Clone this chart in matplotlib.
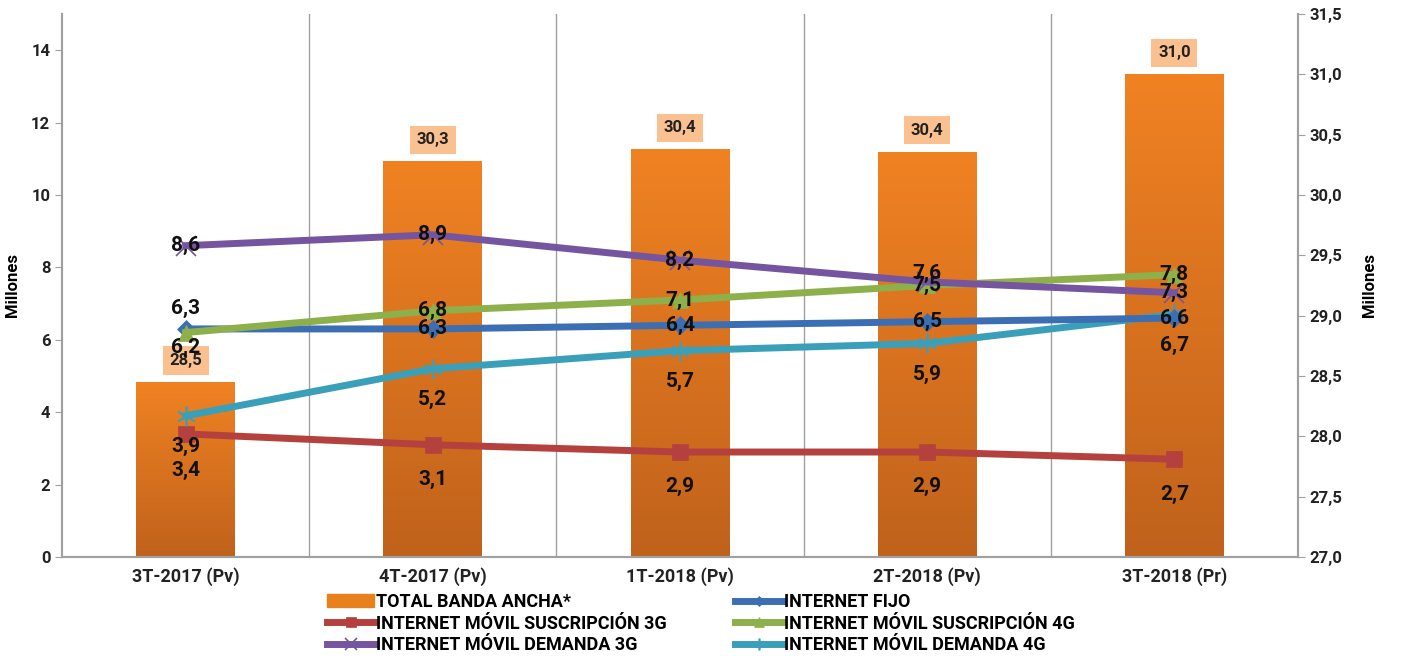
import numpy as np
import matplotlib.pyplot as plt
from matplotlib.patches import Patch
from matplotlib.colors import LinearSegmentedColormap
from matplotlib.ticker import FuncFormatter, MultipleLocator

categories = ["3T-2017 (Pv)", "4T-2017 (Pv)", "1T-2018 (Pv)", "2T-2018 (Pv)", "3T-2018 (Pr)"]
total_banda = [28.45, 30.28, 30.38, 30.36, 31.0]
total_labels = ["28,5", "30,3", "30,4", "30,4", "31,0"]
internet_fijo = [6.3, 6.3, 6.4, 6.5, 6.6]
movil_susc_3g = [3.4, 3.1, 2.9, 2.9, 2.7]
movil_susc_4g = [6.2, 6.8, 7.1, 7.5, 7.8]
movil_dem_3g = [8.6, 8.9, 8.2, 7.6, 7.3]
movil_dem_4g = [3.9, 5.2, 5.7, 5.9, 6.7]

plt.rcParams["font.family"] = ["Roboto", "DejaVu Sans"]
plt.rcParams["font.weight"] = "bold"

fig = plt.figure(figsize=(14.01, 6.56), dpi=100)
ax = fig.add_axes([0.0443, 0.1509, 0.8822, 0.8278])
ax2 = ax.twinx()
x = np.arange(len(categories))

# bars on the right scale (drawn first, behind the lines)
bars = ax.bar(x, np.array(total_banda) - 27.0, bottom=27.0, width=0.4, color="#E8801E", zorder=2)
grad = np.linspace(0, 1, 256).reshape(-1, 1)
cmap = LinearSegmentedColormap.from_list("bar", ["#C0621C", "#F08222"])
for b in bars:
    bx, by = b.get_x(), b.get_y()
    im = ax.imshow(grad, extent=[bx, bx + b.get_width(), by, by + b.get_height()],
                   origin="lower", aspect="auto", cmap=cmap, zorder=2.5)
    im.set_clip_path(b)
ax.set_xlim(-0.5, 4.5)
ax.set_ylim(27.0, 31.5)
for xi, v, lab in zip(x, total_banda, total_labels):
    ax.annotate(lab, (xi, v), xytext=(0, 10), textcoords="offset points", ha="center", va="bottom",
                fontsize=12, fontweight="bold", color="#222222", zorder=5,
                bbox=dict(boxstyle="square,pad=0.4", fc="#FAC090", ec="none"))

for g in [0.5, 1.5, 2.5, 3.5]:
    ax.axvline(g, color="#A0A0A0", lw=1, zorder=1)

ax.yaxis.tick_right()
ax.yaxis.set_label_position("right")
ax.yaxis.set_major_locator(MultipleLocator(0.5))
ax.yaxis.set_major_formatter(FuncFormatter(lambda v, p: f"{v:.1f}".replace(".", ",")))
ax.set_ylabel("Millones", fontsize=12, fontweight="bold", rotation=90, labelpad=14)

# lines on the left scale
ax2.yaxis.tick_left()
ax2.yaxis.set_label_position("left")
ax2.set_ylim(0, 15)
ax2.set_yticks(range(0, 15, 2))
ax2.set_ylabel("Millones", fontsize=12, fontweight="bold", labelpad=8)

series = [
    (movil_susc_3g, "#B5413E", "s", 11, "INTERNET MÓVIL SUSCRIPCIÓN 3G"),
    (movil_dem_4g, "#3AA0BA", (6, 2, 0), 14, "INTERNET MÓVIL DEMANDA 4G"),
    (internet_fijo, "#3C6EB4", "D", 9, "INTERNET FIJO"),
    (movil_susc_4g, "#8DB04A", "^", 12, "INTERNET MÓVIL SUSCRIPCIÓN 4G"),
    (movil_dem_3g, "#7554A0", "x", 14, "INTERNET MÓVIL DEMANDA 3G"),
]
handles = {}
for vals, col, mk, ms, name in series:
    mew = 1.2 if mk in ("x", (6, 2, 0)) else 0.5
    h, = ax2.plot(x, vals, color=col, lw=5, marker=mk, markersize=ms, markeredgewidth=mew,
                  markeredgecolor=col, zorder=3, label=name)
    handles[name] = h

# label offsets (points): per series, per category
offsets = {
    "INTERNET MÓVIL SUSCRIPCIÓN 3G": [-26, -25, -25, -25, -25],
    "INTERNET MÓVIL DEMANDA 4G": [-22, -22, -22, -22, -22],
    "INTERNET FIJO": [15, 0, 0, 0, 0],
    "INTERNET MÓVIL SUSCRIPCIÓN 4G": [-11, 0, 0, 0, 0],
    "INTERNET MÓVIL DEMANDA 3G": [0, 0, 0, 6, 0],
}
for vals, col, mk, ms, name in series:
    for xi, v, off in zip(x, vals, offsets[name]):
        ax2.annotate(f"{v:.1f}".replace(".", ","), (xi, v), xytext=(0, off), textcoords="offset points",
                     ha="center", va="center", fontsize=15, fontweight="bold", color="#111111", zorder=6)

for a in (ax, ax2):
    a.spines["top"].set_visible(False)
    for s in ("left", "right", "bottom"):
        a.spines[s].set_color("#A0A0A0")
        a.spines[s].set_linewidth(1.5)
    a.tick_params(axis="y", colors="#A0A0A0", labelcolor="#222222", labelsize=12, length=5)
ax.set_xticks(x)
ax.set_xticklabels(categories, fontsize=13, fontweight="bold", color="#222222")
ax.tick_params(axis="x", length=0, pad=7)

legend_handles = [
    Patch(color="#E8801E"),
    handles["INTERNET MÓVIL SUSCRIPCIÓN 3G"],
    handles["INTERNET MÓVIL DEMANDA 3G"],
    handles["INTERNET FIJO"],
    handles["INTERNET MÓVIL SUSCRIPCIÓN 4G"],
    handles["INTERNET MÓVIL DEMANDA 4G"],
]
legend_labels = ["TOTAL BANDA ANCHA*", "INTERNET MÓVIL SUSCRIPCIÓN 3G", "INTERNET MÓVIL DEMANDA 3G",
                 "INTERNET FIJO", "INTERNET MÓVIL SUSCRIPCIÓN 4G", "INTERNET MÓVIL DEMANDA 4G"]
fig.legend(legend_handles, legend_labels, ncol=2, loc="lower left", bbox_to_anchor=(0.222, -0.022),
           frameon=False, fontsize=13, handlelength=2.6, handletextpad=0.1, columnspacing=3.8,
           labelspacing=0.2, markerscale=0.6)

fig.savefig("out.png", dpi=100)
